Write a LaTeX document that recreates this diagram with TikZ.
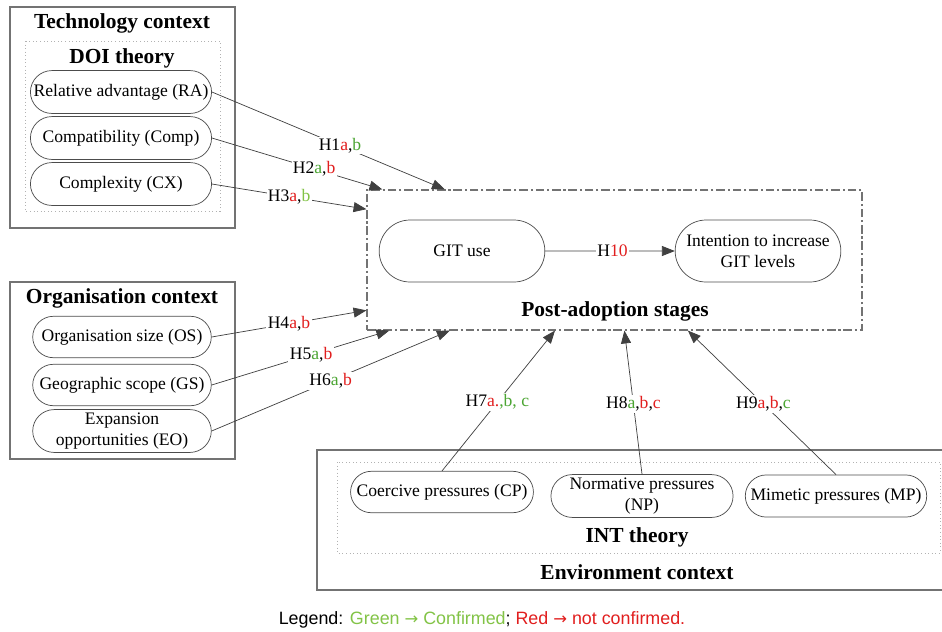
\documentclass[tikz,border=0pt]{standalone}
\usepackage{fontspec}
\setmainfont{Liberation Serif}
\newfontfamily\legendfont{Liberation Sans}
\newfontfamily\arrowfont{DejaVu Sans}
\usetikzlibrary{arrows.meta,shapes.misc,calc}

\definecolor{nored}{RGB}{225,30,30}
\definecolor{okgreen}{RGB}{75,165,50}
\definecolor{ltgreen}{RGB}{130,195,70}
\newcommand{\rd}[1]{\textcolor{nored}{#1}}
\newcommand{\gr}[1]{\textcolor{okgreen}{#1}}
\newcommand{\lgr}[1]{\textcolor{ltgreen}{#1}}
\newcommand{\toarr}{{\arrowfont\fontsize{11.5}{15}\selectfont →}}

\begin{document}
\begin{tikzpicture}[x=0.7pt,y=-0.7pt,
    pill/.style={rounded rectangle, draw=black!70, line width=0.5pt, inner sep=1pt,
      align=center, font=\fontsize{12.3}{14.5}\selectfont},
    ctx/.style={draw=black!55, line width=0.8pt},
    theory/.style={draw=black!30, dotted, line width=0.5pt},
    stagebox/.style={draw=black!55, line width=0.8pt,
      dash pattern=on 6pt off 2pt on 1.5pt off 2pt},
    heading/.style={font=\fontsize{15}{17}\selectfont\bfseries},
    hyp/.style={draw=black!75, line width=0.5pt, -{Triangle[length=9pt,width=7pt]}},
    hlab/.style={fill=white, inner sep=1pt, font=\fontsize{12.3}{14}\selectfont}]
  \useasboundingbox (0,0) rectangle (942,631);

  % technology context
  \draw[ctx] (10,7) rectangle (235,228);
  \draw[theory] (25,41) rectangle (220,211);
  \node[heading] (tech) at (122,23) {Technology context};
  \node[heading] (doi) at (122,58) {DOI theory};
  \node[pill, minimum width=128.8pt, minimum height=30pt] (ra) at (121,92) {Relative advantage (RA)};
  \node[pill, minimum width=128.8pt, minimum height=30pt] (comp) at (121,138) {Compatibility (Comp)};
  \node[pill, minimum width=128.8pt, minimum height=30pt] (cx) at (121,184) {Complexity (CX)};

  % organisation context
  \draw[ctx] (10,282) rectangle (235,459);
  \node[heading] (org) at (122,298) {Organisation context};
  \node[pill, minimum width=127pt, minimum height=29pt] (os) at (122,337) {Organisation size (OS)};
  \node[pill, minimum width=127pt, minimum height=29pt] (gs) at (122,385) {Geographic scope (GS)};
  \node[pill, minimum width=127pt, minimum height=30pt] (eo) at (122,431) {Expansion\\opportunities (EO)};

  % post-adoption stages
  \node[stagebox, minimum width=346.5pt, minimum height=98pt] (post) at (614.5,260) {};
  \node[pill, minimum width=118pt, minimum height=43.4pt] (git) at (462,251) {GIT use};
  \node[pill, minimum width=118pt, minimum height=43.4pt] (intent) at (758,251) {Intention to increase\\GIT levels};
  \node[heading] (stages) at (615,311) {Post-adoption stages};

  % environment context
  \draw[ctx] (317,450) rectangle (944,590);
  \draw[theory] (337,462) rectangle (940,553);
  \node[pill, minimum width=130pt, minimum height=29pt] (cp) at (442,492) {Coercive pressures (CP)};
  \node[pill, minimum width=129.5pt, minimum height=30pt] (np) at (642,496) {Normative pressures\\(NP)};
  \node[pill, minimum width=129pt, minimum height=29.5pt] (mp) at (836,496) {Mimetic pressures (MP)};
  \node[heading] (int) at (637,537) {INT theory};
  \node[heading] (env) at (637,572) {Environment context};

  % hypotheses
  \draw[hyp] (ra.east) -- node[hlab,pos=0.55] {H1\rd{a},\gr{b}} ($(post.north west)!0.158!(post.north east)$);
  \draw[hyp] (comp.east) -- node[hlab,pos=0.6] {H2\gr{a},\rd{b}} ($(post.north west)!0.032!(post.north east)$);
  \draw[hyp] (cx.east) -- node[hlab,pos=0.5] {H3\rd{a},\lgr{b}} ($(post.north west)!0.14!(post.south west)$);
  \draw[hyp] (os.east) -- node[hlab,pos=0.5] {H4\rd{a},\rd{b}} ($(post.north west)!0.857!(post.south west)$);
  \draw[hyp] (gs.east) -- node[hlab,pos=0.56] {H5\gr{a},\rd{b}} ($(post.south west)!0.046!(post.south east)$);
  \draw[hyp] (eo.east) -- node[hlab,pos=0.5] {H6\gr{a},\rd{b}} ($(post.south west)!0.168!(post.south east)$);
  \draw[hyp] (cp.north) -- node[hlab,pos=0.49] {H7\rd{a.}\gr{,b, c}} ($(post.south west)!0.38!(post.south east)$);
  \draw[hyp] (np.north) -- node[hlab,pos=0.49] {H8\gr{a},\rd{b},\rd{c}} ($(post.south west)!0.52!(post.south east)$);
  \draw[hyp] (mp.north) -- node[hlab,pos=0.49] {H9\rd{a},\rd{b},\gr{c}} ($(post.south west)!0.648!(post.south east)$);
  \draw[hyp] (git) -- node[hlab,pos=0.52] {H\rd{10}} (intent);

  \node[font=\legendfont\fontsize{12.5}{15}\selectfont] (legend) at (482,620)
    {Legend: \lgr{Green \toarr{} Confirmed}; \rd{Red \toarr{} not confirmed.}};
\end{tikzpicture}
\end{document}
